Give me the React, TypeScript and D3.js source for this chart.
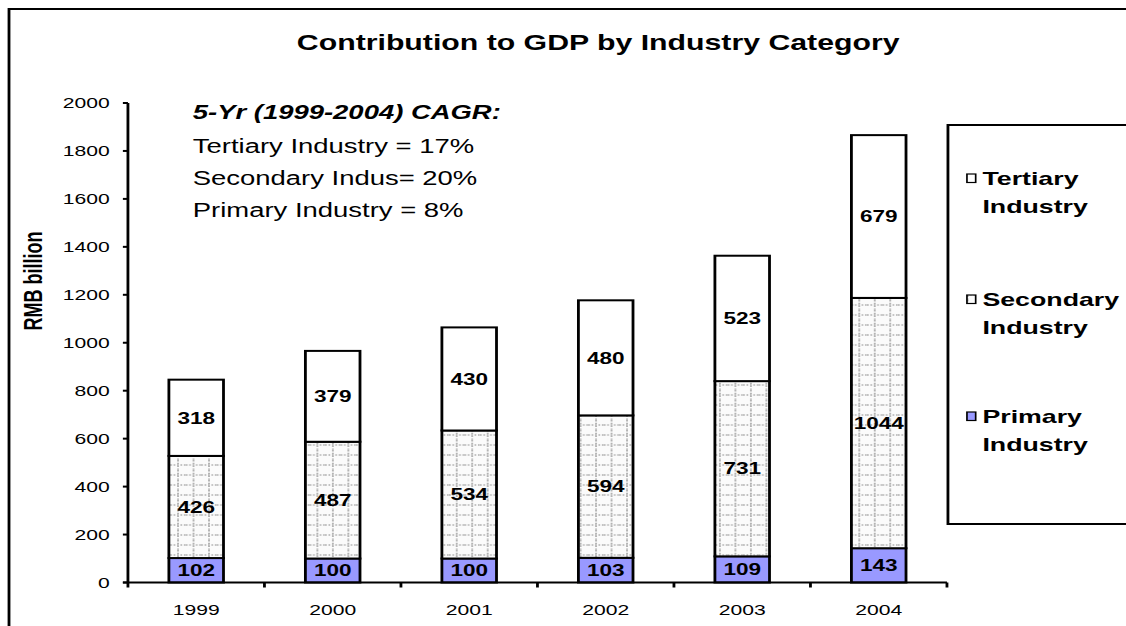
import * as d3 from 'd3'

const years = ['1999', '2000', '2001', '2002', '2003', '2004']
const primary = [102, 100, 100, 103, 109, 143]
const secondary = [426, 487, 534, 594, 731, 1044]
const tertiary = [318, 379, 430, 480, 523, 679]
const yTicks = [0, 200, 400, 600, 800, 1000, 1200, 1400, 1600, 1800, 2000]
const keys = ['primary', 'secondary', 'tertiary'] as const
const legendNames: Record<string, [string, string]> = {
  tertiary: ['Tertiary', 'Industry'],
  secondary: ['Secondary', 'Industry'],
  primary: ['Primary', 'Industry'],
}
const cagrTitle = '5-Yr (1999-2004) CAGR:'
const cagrLines = ['Tertiary Industry = 17%', 'Secondary Indus= 20%', 'Primary Industry = 8%']

// the reference is an Excel chart stretched sideways, so draw narrow and let the viewBox stretch it
const VW = 800
const VH = 626
const FONT = '"Liberation Sans", Arial, Helvetica, sans-serif'

const fills: Record<string, string> = {
  primary: '#9999ff',
  secondary: 'url(#dots)',
  tertiary: '#ffffff',
}

export default function App() {
  const rows = years.map((year, i) => ({
    year,
    primary: primary[i],
    secondary: secondary[i],
    tertiary: tertiary[i],
  }))
  const stacked = d3.stack<(typeof rows)[number]>().keys(keys as unknown as string[])(rows)

  const x = d3.scaleBand().domain(years).range([90.9, 672.8]).paddingInner(0.6).paddingOuter(0.3)
  const y = d3.scaleLinear().domain([0, 2000]).range([582.5, 103])
  const [x0, x1] = x.range()
  const gap = (x.step() - x.bandwidth()) / 2
  const xTicks = [...years.map(yr => (x(yr) ?? 0) - gap), x1]

  const legendOrder = ['tertiary', 'secondary', 'primary']
  const legendBase = [185, 306, 423]

  return (
    <svg
      width={1126}
      height={626}
      viewBox={`0 0 ${VW} ${VH}`}
      preserveAspectRatio="none"
      style={{ position: 'fixed', left: 0, top: 0, background: '#fff' }}
      fontFamily={FONT}
    >
      <defs>
        <pattern id="dots" width={11} height={10} patternUnits="userSpaceOnUse">
          <rect width={11} height={10} fill="#fbfbfb" />
          <line x1={0} x2={11} y1={5} y2={5} stroke="#b0b0b0" strokeWidth={1.3} strokeDasharray="1.2 1.2" />
          <line x1={5.5} x2={5.5} y1={0} y2={10} stroke="#b0b0b0" strokeWidth={1.3} strokeDasharray="1.4 1.4" />
        </pattern>
      </defs>

      {/* chart frame, runs off the right and bottom of the picture */}
      <rect x={6.4} y={9} width={900} height={700} fill="none" stroke="#000" strokeWidth={2} />

      <text x={425} y={50} textAnchor="middle" fontSize={21.5} fontWeight="bold">
        Contribution to GDP by Industry Category
      </text>

      {/* bars */}
      {stacked.map(series => (
        <g key={series.key}>
          {series.map((d, i) => (
            <rect
              key={years[i]}
              x={x(years[i])}
              y={y(d[1])}
              width={x.bandwidth()}
              height={y(d[0]) - y(d[1])}
              fill={fills[series.key]}
              stroke="#000"
              strokeWidth={2}
            />
          ))}
        </g>
      ))}

      {/* segment values */}
      {stacked.map(series => (
        <g key={series.key + '-lab'}>
          {series.map((d, i) => (
            <text
              key={years[i]}
              x={(x(years[i]) ?? 0) + x.bandwidth() / 2}
              y={(y(d[0]) + y(d[1])) / 2}
              dy="0.36em"
              textAnchor="middle"
              fontSize={16}
              fontWeight="bold"
            >
              {d.data[series.key as keyof (typeof rows)[number]]}
            </text>
          ))}
        </g>
      ))}

      {/* y axis */}
      <line x1={x0} x2={x0} y1={y(2000)} y2={y(0)} stroke="#000" strokeWidth={2} />
      {yTicks.map(t => (
        <g key={t}>
          <line x1={x0 - 3.6} x2={x0} y1={y(t)} y2={y(t)} stroke="#000" strokeWidth={2} />
          <text x={x0 - 13} y={y(t)} dy="0.36em" textAnchor="end" fontSize={15}>
            {t}
          </text>
        </g>
      ))}
      <text
        transform={`translate(23,281) rotate(-90)`}
        textAnchor="middle"
        dy="0.36em"
        fontSize={18}
        fontWeight="bold"
      >
        RMB billion
      </text>

      {/* x axis */}
      <line x1={x0 - 3.6} x2={x1} y1={y(0)} y2={y(0)} stroke="#000" strokeWidth={2} />
      {xTicks.map((t, i) => (
        <line key={i} x1={t} x2={t} y1={y(0)} y2={y(0) + 5} stroke="#000" strokeWidth={2} />
      ))}
      {years.map(yr => (
        <text key={yr} x={(x(yr) ?? 0) + x.bandwidth() / 2} y={615} textAnchor="middle" fontSize={15}>
          {yr}
        </text>
      ))}

      {/* CAGR note */}
      <text x={137} y={119} fontSize={19.5} fontWeight="bold" fontStyle="italic">
        {cagrTitle}
      </text>
      {cagrLines.map((s, i) => (
        <text key={s} x={137} y={153 + i * 32} fontSize={19.5}>
          {s}
        </text>
      ))}

      {/* legend */}
      <rect x={673.5} y={125} width={300} height={399} fill="#fff" stroke="#000" strokeWidth={2} />
      {legendOrder.map((k, i) => (
        <g key={k}>
          <rect
            x={687}
            y={legendBase[i] - 11}
            width={6.2}
            height={8.5}
            fill={fills[k]}
            stroke="#000"
            strokeWidth={1.2}
          />
          <text x={698} y={legendBase[i]} fontSize={19} fontWeight="bold">
            <tspan x={698}>{legendNames[k][0]}</tspan>
            <tspan x={698} dy={28}>
              {legendNames[k][1]}
            </tspan>
          </text>
        </g>
      ))}
    </svg>
  )
}
